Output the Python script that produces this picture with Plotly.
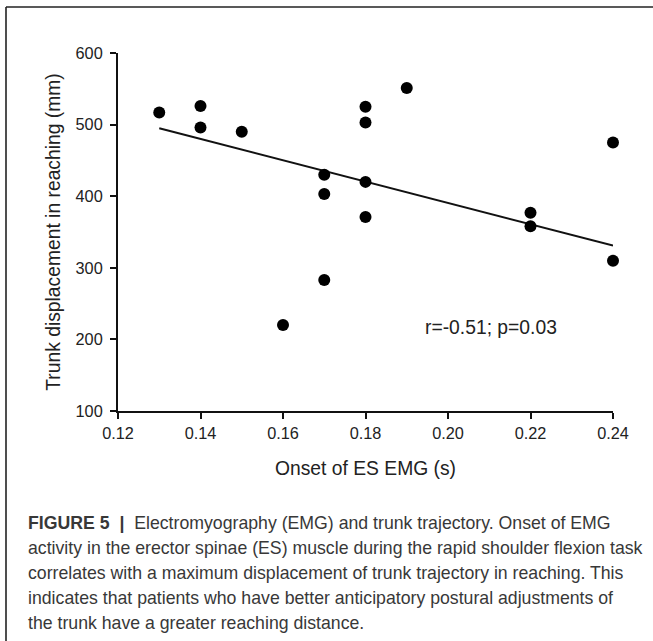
import plotly.graph_objects as go

# ---- data ----
onset_s = [0.13, 0.14, 0.14, 0.15, 0.16, 0.17, 0.17, 0.17, 0.18, 0.18, 0.18, 0.18, 0.19, 0.22, 0.22, 0.24, 0.24]
trunk_mm = [517, 526, 496, 490, 220, 430, 403, 283, 525, 503, 420, 371, 551, 377, 358, 475, 310]
trend_x = [0.13, 0.24]
trend_y = [495, 331]
x_title = "Onset of ES EMG (s)"
y_title = "Trunk displacement in reaching (mm)"
stat_text = "r=-0.51; p=0.03"
stat_pos = [0.2105, 217]
caption_lines = [
    "<b>FIGURE 5</b>  <b>|</b>  Electromyography (EMG) and trunk trajectory. Onset of EMG",
    "activity in the erector spinae (ES) muscle during the rapid shoulder flexion task",
    "correlates with a maximum displacement of trunk trajectory in reaching. This",
    "indicates that patients who have better anticipatory postural adjustments of",
    "the trunk have a greater reaching distance.",
]

W, H = 653, 641
ML, MR, MT, MB = 118, 40, 53, 230
PW, PH = W - ML - MR, H - MT - MB


def px_x(px):
    return (px - ML) / PW


def px_y(py):
    return (H - MB - py) / PH


FONT = "Liberation Sans, Arial, Helvetica, sans-serif"

fig = go.Figure()
fig.add_trace(go.Scatter(
    x=trend_x, y=trend_y, mode="lines",
    line=dict(color="#111111", width=2), showlegend=False, hoverinfo="skip",
))
fig.add_trace(go.Scatter(
    x=onset_s, y=trunk_mm, mode="markers", cliponaxis=False,
    marker=dict(color="#000000", size=12, line=dict(width=0)), showlegend=False,
))

axis_common = dict(
    showline=True, linecolor="#111111", linewidth=2, showgrid=False, zeroline=False,
    ticks="outside", ticklen=6, tickwidth=1.6, tickcolor="#111111",
    tickfont=dict(family=FONT, size=16.3, color="#222222"),
)

fig.update_xaxes(
    range=[0.12, 0.24], tick0=0.12, dtick=0.02, tickformat=".2f",
    title=dict(text=x_title, font=dict(family=FONT, size=19.3, color="#222222"), standoff=21),
    **axis_common,
)
fig.update_yaxes(
    range=[100, 600], tick0=100, dtick=100,
    title=dict(text=y_title, font=dict(family=FONT, size=19.3, color="#222222"), standoff=10),
    ticklabelstandoff=4,
    **axis_common,
)

annotations = [dict(
    x=stat_pos[0], y=stat_pos[1], xref="x", yref="y", text=stat_text, showarrow=False,
    font=dict(family=FONT, size=19.3, color="#222222"), xanchor="center", yanchor="middle",
)]
for i, line in enumerate(caption_lines):
    annotations.append(dict(
        x=px_x(26), y=px_y(523 + 25 * i), xref="paper", yref="paper", text=line,
        showarrow=False, xanchor="left", yanchor="middle", align="left",
        font=dict(family=FONT, size=17.7, color="#383838"),
    ))

shapes = [
    dict(type="line", xref="paper", yref="paper", x0=px_x(6), x1=px_x(6), y0=px_y(7), y1=px_y(H + 5),
         line=dict(color="#222222", width=1.6)),
    dict(type="line", xref="paper", yref="paper", x0=px_x(6), x1=px_x(W + 5), y0=px_y(7), y1=px_y(7),
         line=dict(color="#222222", width=1.6)),
]

fig.update_layout(
    width=W, height=H,
    margin=dict(l=ML, r=MR, t=MT, b=MB, autoexpand=False),
    paper_bgcolor="white", plot_bgcolor="white",
    annotations=annotations, shapes=shapes,
    font=dict(family=FONT),
)

fig.write_html(
    "out.html",
    config={"displayModeBar": False},
    post_script="document.body.style.margin='0';document.body.style.overflow='hidden';",
)
